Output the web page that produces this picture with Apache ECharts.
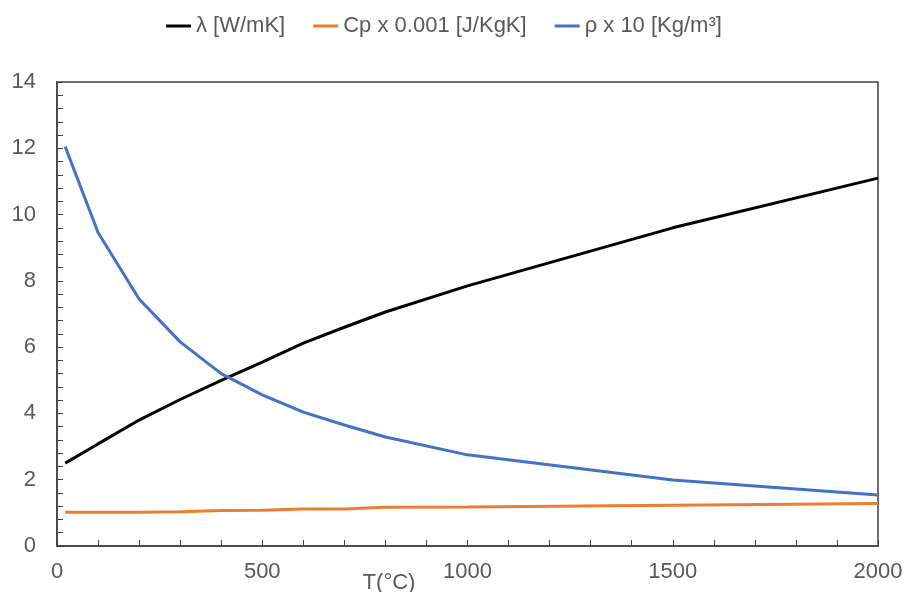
<!DOCTYPE html>
<html><head><meta charset="utf-8">
<script src="https://cdn.jsdelivr.net/npm/echarts@6/dist/echarts.min.js"></script>
<style>html,body{margin:0;padding:0;background:#fff}#c{width:906px;height:592px}</style>
</head><body><div id="c"></div>
<script>
const temps = [20, 100, 200, 300, 400, 500, 600, 700, 800, 1000, 1500, 2000];
const lambda = [2.5, 3.08, 3.8, 4.42, 5.0, 5.55, 6.12, 6.6, 7.06, 7.85, 9.6, 11.1];
const cp = [1.02, 1.02, 1.02, 1.03, 1.07, 1.08, 1.12, 1.12, 1.17, 1.18, 1.23, 1.28];
const rho = [12.05, 9.46, 7.45, 6.16, 5.2, 4.56, 4.04, 3.65, 3.29, 2.75, 1.99, 1.54];
const seriesNames = ['λ [W/mK]', 'Cp x 0.001 [J/KgK]', 'ρ x 10 [Kg/m³]'];
const seriesColors = ['#000000', '#ED7D31', '#4472C4'];
const seriesData = [lambda, cp, rho];

const chart = echarts.init(document.getElementById('c'));
const font = 'Liberation Sans, Arial, sans-serif';
chart.setOption({
  animation: false,
  legend: {
    top: 10, left: 161, itemWidth: 25, itemHeight: 3, itemGap: 28,
    icon: 'rect',
    textStyle: {fontFamily: font, fontSize: 22, color: '#595959'},
    data: seriesNames
  },
  grid: {left: 57, right: 28, top: 82, bottom: 46, show: true, borderColor: '#404040', borderWidth: 1.5,
         containLabel: false, outerBoundsMode: 'none'},
  xAxis: {
    type: 'value', min: 0, max: 2000, interval: 500,
    name: 'T(°C)', nameLocation: 'middle', nameGap: 26, nameMoveOverlap: false,
    nameTextStyle: {fontFamily: font, fontSize: 22, color: '#595959', padding: [0, 157, 0, 0]},
    axisLine: {show: true, lineStyle: {color: '#404040', width: 1.5}},
    axisTick: {show: true, inside: true, length: 6, lineStyle: {color: '#404040'}},
    minorTick: {show: true, splitNumber: 5, length: 6, lineStyle: {color: '#404040'}},
    splitLine: {show: false},
    axisLabel: {fontFamily: font, fontSize: 22, color: '#595959', margin: 15, formatter: v => String(v)}
  },
  yAxis: {
    type: 'value', min: 0, max: 14, interval: 2,
    axisLine: {show: true, lineStyle: {color: '#404040', width: 1.5}},
    axisTick: {show: true, inside: true, length: 6, lineStyle: {color: '#404040'}},
    minorTick: {show: true, splitNumber: 5, length: 6, lineStyle: {color: '#404040'}},
    splitLine: {show: false},
    axisLabel: {fontFamily: font, fontSize: 22, color: '#595959', margin: 21}
  },
  series: seriesNames.map((n, i) => ({
    name: n, type: 'line', showSymbol: false, symbol: 'none',
    data: temps.map((t, j) => [t, seriesData[i][j]]),
    lineStyle: {color: seriesColors[i], width: 3},
    itemStyle: {color: seriesColors[i]}
  }))
});
</script></body></html>
